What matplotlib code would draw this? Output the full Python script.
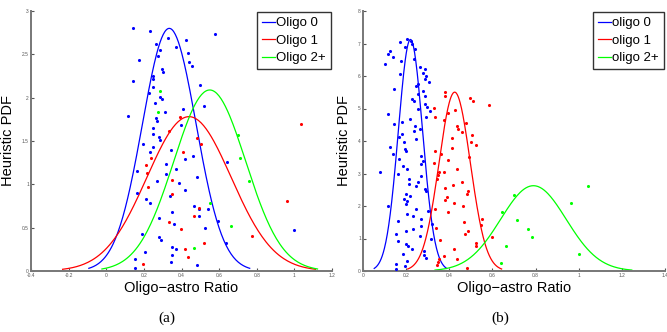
import numpy as np
import matplotlib
matplotlib.use('Agg')
import matplotlib.pyplot as plt

# fitted gaussians (mean, sigma)
left_names = ['Oligo 0', 'Oligo 1', 'Oligo 2+']
left_mu = [0.335, 0.44, 0.55]
left_sigma = [0.1425, 0.224, 0.191]

right_names = ['oligo 0', 'oligo 1', 'oligo 2+']
right_mu = [0.22, 0.425, 0.79]
right_sigma = [0.056, 0.0725, 0.152]

colors = ['#0000ff', '#ff0000', '#00ff00']

# scatter points, panel (a)
a0_x = [0.14, 0.235, 0.327, 0.425, 0.579, 0.265, 0.373, 0.288, 0.434, 0.172,
        0.442, 0.457, 0.273, 0.294, 0.304, 0.142, 0.25, 0.246, 0.497, 0.251,
        0.228, 0.285, 0.297, 0.257, 0.312, 0.41, 0.117, 0.522, 0.267, 0.269,
        0.395, 0.251, 0.246, 0.283, 0.287, 0.198, 0.248, 0.232, 0.345, 0.46,
        0.315, 0.373, 0.416, 0.642, 0.165, 0.32, 0.271, 0.485, 0.389, 0.163,
        0.419, 0.21, 0.23, 0.34, 0.467, 0.494, 0.347, 0.543, 0.281, 0.596,
        0.358, 0.524, 0.189, 0.998, 0.283, 0.29, 0.639, 0.204, 0.352, 0.37,
        0.152, 0.35, 0.343, 0.483, 0.154, 0.492]
a0_y = [2.80, 2.77, 2.69, 2.66, 2.73, 2.62, 2.59, 2.55, 2.52, 2.44,
        2.41, 2.37, 2.48, 2.33, 2.30, 2.19, 2.25, 2.22, 2.15, 2.12,
        2.05, 2.01, 1.98, 1.94, 1.83, 1.87, 1.79, 1.90, 1.76, 1.73,
        1.69, 1.65, 1.58, 1.55, 1.51, 1.47, 1.43, 1.37, 1.40, 1.33,
        1.23, 1.18, 1.29, 1.26, 1.15, 1.12, 1.04, 1.08, 1.01, 0.90,
        0.93, 0.83, 0.79, 0.86, 0.75, 0.71, 0.68, 0.72, 0.61, 0.58,
        0.54, 0.50, 0.43, 0.47, 0.39, 0.36, 0.32, 0.22, 0.28, 0.25,
        0.14, 0.18, 0.10, 0.07, 0.035, 0.64]
a1_x = [0.393, 0.335, 0.481, 0.501, 0.237, 0.409, 0.212, 0.219, 0.35, 0.221,
        0.352, 0.492, 0.465, 0.331, 0.395, 0.519, 0.419, 0.435, 0.193, 0.961,
        1.037, 0.777]
a1_y = [1.78, 1.62, 1.54, 1.46, 1.30, 1.37, 1.22, 1.13, 1.05, 0.97,
        0.89, 0.73, 0.64, 0.57, 0.48, 0.32, 0.25, 0.16, 0.08, 0.81,
        1.70, 0.40]
a2_x = [0.287, 0.276, 0.70, 0.712, 0.761, 0.549, 0.662, 0.467]
a2_y = [2.08, 1.83, 1.57, 1.30, 1.04, 0.78, 0.52, 0.26]

# scatter points, panel (b)
b0_x = [0.205, 0.223, 0.172, 0.226, 0.197, 0.24, 0.123, 0.115, 0.138, 0.10,
        0.174, 0.237, 0.265, 0.289, 0.28, 0.294, 0.288, 0.305, 0.172, 0.254,
        0.248, 0.142, 0.277, 0.254, 0.286, 0.228, 0.238, 0.288, 0.295, 0.257,
        0.311, 0.117, 0.29, 0.217, 0.183, 0.143, 0.243, 0.262, 0.237, 0.18,
        0.168, 0.246, 0.189, 0.197, 0.198, 0.126, 0.137, 0.166, 0.271, 0.277,
        0.268, 0.186, 0.203, 0.078, 0.163, 0.269, 0.211, 0.215, 0.255, 0.246,
        0.288, 0.291, 0.198, 0.22, 0.189, 0.203, 0.118, 0.20, 0.248, 0.302,
        0.206, 0.232, 0.163, 0.268, 0.318, 0.269, 0.232, 0.152, 0.262, 0.317,
        0.198, 0.162, 0.20, 0.209, 0.228, 0.282, 0.186, 0.282, 0.291, 0.203,
        0.152, 0.194, 0.151]
b0_y = [7.14, 7.07, 7.05, 6.97, 6.90, 6.83, 6.76, 6.69, 6.60, 6.38,
        6.45, 6.52, 6.29, 6.21, 6.10, 5.99, 5.91, 5.83, 6.07, 5.76,
        5.68, 5.60, 5.53, 5.44, 5.37, 5.29, 5.23, 5.13, 5.06, 4.99,
        4.91, 4.83, 4.75, 4.68, 4.60, 4.52, 4.45, 4.37, 4.31, 4.22,
        4.13, 4.07, 3.97, 3.76, 3.70, 3.82, 3.60, 3.45, 3.53, 3.38,
        3.30, 3.22, 3.13, 3.06, 2.99, 2.91, 2.82, 2.69, 2.74, 2.62,
        2.53, 2.46, 2.38, 2.30, 2.22, 2.14, 1.99, 2.07, 1.90, 1.85,
        1.76, 1.69, 1.54, 1.60, 1.45, 1.38, 1.30, 1.15, 1.08, 1.00,
        1.23, 0.92, 0.84, 0.77, 0.69, 0.62, 0.53, 0.48, 0.39, 0.31,
        0.23, 0.14, 0.07]
b1_x = [0.382, 0.382, 0.497, 0.512, 0.582, 0.331, 0.428, 0.392, 0.332, 0.377,
        0.478, 0.435, 0.44, 0.458, 0.505, 0.411, 0.50, 0.525, 0.412, 0.334,
        0.363, 0.492, 0.395, 0.331, 0.437, 0.354, 0.375, 0.348, 0.343, 0.458,
        0.418, 0.378, 0.489, 0.483, 0.391, 0.378, 0.42, 0.463, 0.332, 0.394,
        0.551, 0.468, 0.545, 0.338, 0.489, 0.472, 0.60, 0.355, 0.526, 0.522,
        0.42, 0.374, 0.351, 0.435, 0.346, 0.343, 0.482]
b1_y = [5.51, 5.39, 5.32, 5.23, 5.12, 5.03, 4.94, 4.85, 4.74, 4.66,
        4.56, 4.47, 4.37, 4.27, 4.18, 4.09, 3.98, 3.89, 3.79, 3.70,
        3.60, 3.52, 3.41, 3.32, 3.13, 3.04, 3.04, 2.95, 2.84, 2.74,
        2.66, 2.56, 2.47, 2.38, 2.27, 2.19, 2.08, 1.99, 1.90, 1.81,
        1.61, 1.52, 1.43, 1.33, 1.24, 1.14, 1.04, 0.94, 0.85, 0.76,
        0.67, 0.46, 0.37, 0.37, 0.27, 0.17, 0.10]
b2_x = [1.042, 0.702, 0.965, 0.645, 0.714, 0.763, 0.782, 0.665, 1.002, 0.642]
b2_y = [2.62, 2.35, 2.09, 1.83, 1.57, 1.29, 1.04, 0.78, 0.52, 0.26]

plt.rcParams['font.family'] = ['Liberation Sans', 'DejaVu Sans']


def gauss_pdf(x, mu, sigma):
    return np.exp(-0.5 * ((x - mu) / sigma) ** 2) / (sigma * np.sqrt(2 * np.pi))


def draw_panel(ax, names, mus, sigmas, pts, xlim, ylim, xticks, yticks):
    for name, mu, sd, col in zip(names, mus, sigmas, colors):
        xs = np.linspace(mu - 3 * sd, mu + 3 * sd, 200)
        ax.plot(xs, gauss_pdf(xs, mu, sd), color=col, lw=0.9, label=name)
    for (px, py), col in zip(pts, colors):
        ax.scatter(px, py, s=5, color=col, lw=0, zorder=3)
    ax.set_xlim(*xlim)
    ax.set_ylim(*ylim)
    ax.set_xticks(xticks)
    ax.set_yticks(yticks)
    ax.set_xticklabels([('%g' % t) for t in xticks])
    ax.set_yticklabels([('%g' % t) for t in yticks])
    ax.tick_params(direction='in', length=2.5, width=0.8, labelsize=3.5,
                   colors='#555555', pad=1.5)
    for side in ['top', 'right']:
        ax.spines[side].set_visible(False)
    for side in ['left', 'bottom']:
        ax.spines[side].set_color('#777777')
        ax.spines[side].set_linewidth(1.4)
    ax.set_xlabel('Oligo\u2212astro Ratio', fontsize=10.5, labelpad=2)
    ax.set_ylabel('Heuristic PDF', fontsize=10.5, labelpad=5)
    leg = ax.legend(loc='upper right', fontsize=9.5, frameon=True, fancybox=False,
                    handlelength=1.0, handletextpad=0.1, borderpad=0.35,
                    labelspacing=0.4, borderaxespad=0.1)
    leg.get_frame().set_edgecolor('black')
    leg.get_frame().set_linewidth(1.0)


fig = plt.figure(figsize=(6.67, 3.32), dpi=100)
ax1 = fig.add_axes([31 / 667, 61 / 332, 301 / 667, 260 / 332])
ax2 = fig.add_axes([363 / 667, 61 / 332, 302 / 667, 260 / 332])

draw_panel(ax1, left_names, left_mu, left_sigma,
           [(a0_x, a0_y), (a1_x, a1_y), (a2_x, a2_y)],
           (-0.4, 1.2), (0, 3),
           [-0.4, -0.2, 0, 0.2, 0.4, 0.6, 0.8, 1, 1.2],
           [0, 0.5, 1, 1.5, 2, 2.5, 3])
draw_panel(ax2, right_names, right_mu, right_sigma,
           [(b0_x, b0_y), (b1_x, b1_y), (b2_x, b2_y)],
           (0, 1.4), (0, 8),
           [0, 0.2, 0.4, 0.6, 0.8, 1, 1.2, 1.4],
           [0, 1, 2, 3, 4, 5, 6, 7, 8])

fig.text(167 / 667, 1 - 318 / 332, '(a)', ha='center', va='center',
         fontsize=11, family='Liberation Serif')
fig.text(500 / 667, 1 - 318 / 332, '(b)', ha='center', va='center',
         fontsize=11, family='Liberation Serif')

fig.savefig('out.png', dpi=100)
